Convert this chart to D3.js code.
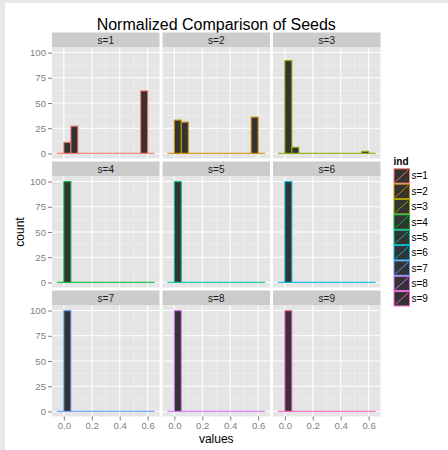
<!DOCTYPE html>
<html><head><meta charset="utf-8">
<script src="https://cdn.jsdelivr.net/npm/d3@7"></script>
<style>
html,body{margin:0;padding:0;background:#E8E8E8;}
svg{display:block;}
text{font-family:"Liberation Sans", Arial, Helvetica, sans-serif;}
</style></head>
<body>
<svg id="chart" width="448" height="450"></svg>
<script>
// ---- data ----
const categories = ["s=1","s=2","s=3","s=4","s=5","s=6","s=7","s=8","s=9"];
const colors = ["#F8766D","#D39200","#93AA00","#00BA38","#00C19F","#00B9E3","#619CFF","#DB72FB","#FF61C3"];
const binEdges = [-0.05,0,0.05,0.10,0.15,0.20,0.25,0.30,0.35,0.40,0.45,0.50,0.55,0.60,0.65];
const counts_s1 = [0,11,27,0,0,0,0,0,0,0,0,0,62,0];
const counts_s2 = [0,33,31,0,0,0,0,0,0,0,0,0,36,0];
const counts_s3 = [0,92,6,0,0,0,0,0,0,0,0,0,2,0];
const counts_s4 = [0,100,0,0,0,0,0,0,0,0,0,0,0,0];
const counts_s5 = [0,100,0,0,0,0,0,0,0,0,0,0,0,0];
const counts_s6 = [0,100,0,0,0,0,0,0,0,0,0,0,0,0];
const counts_s7 = [0,100,0,0,0,0,0,0,0,0,0,0,0,0];
const counts_s8 = [0,100,0,0,0,0,0,0,0,0,0,0,0,0];
const counts_s9 = [0,100,0,0,0,0,0,0,0,0,0,0,0,0];
const seriesCounts = [counts_s1,counts_s2,counts_s3,counts_s4,counts_s5,counts_s6,counts_s7,counts_s8,counts_s9];
const xTicks = [0,0.2,0.4,0.6];
const xMinor = [0.1,0.3,0.5];
const yTicks = [0,25,50,75,100];
const yMinor = [12.5,37.5,62.5,87.5];
const titleText = "Normalized Comparison of Seeds";

// ---- layout ----
const svg = d3.select("#chart");
svg.append("rect").attr("x",5).attr("y",3).attr("width",443).attr("height",447).attr("fill","#ffffff");

const panelW = 107.5, panelH = 111, stripH = 15;
const colX = [52, 162.5, 273];
const rowY = [47.5, 176.5, 305.5]; // panel tops

const xDomain = [binEdges[0] - 0.035, binEdges[binEdges.length-1] + 0.035];
const yDomain = [-5, 105];
const x = d3.scaleLinear().domain(xDomain).range([0, panelW]);
const y = d3.scaleLinear().domain(yDomain).range([panelH, 0]);

// title
svg.append("text").attr("x", (colX[0] + colX[2] + panelW)/2).attr("y", 30)
  .attr("text-anchor","middle").attr("font-size", 16).attr("fill","#000").text(titleText);

categories.forEach((cat, i) => {
  const col = i % 3, row = Math.floor(i / 3);
  const g = svg.append("g").attr("transform", `translate(${colX[col]},${rowY[row]})`);
  // strip
  g.append("rect").attr("x",0).attr("y",-stripH).attr("width",panelW).attr("height",stripH).attr("fill","#CCCCCC");
  g.append("text").attr("x",panelW/2).attr("y",-stripH/2 + 3.5).attr("text-anchor","middle")
    .attr("font-size",10).attr("fill","#1A1A1A").text(cat);
  // panel
  g.append("rect").attr("x",0).attr("y",0).attr("width",panelW).attr("height",panelH).attr("fill","#E5E5E5");
  // minor grid
  g.selectAll(".xm").data(xMinor).enter().append("line")
    .attr("x1",d=>x(d)).attr("x2",d=>x(d)).attr("y1",0).attr("y2",panelH)
    .attr("stroke","#F2F2F2").attr("stroke-width",0.6);
  g.selectAll(".ym").data(yMinor).enter().append("line")
    .attr("y1",d=>y(d)).attr("y2",d=>y(d)).attr("x1",0).attr("x2",panelW)
    .attr("stroke","#F2F2F2").attr("stroke-width",0.6);
  // major grid
  g.selectAll(".xg").data(xTicks).enter().append("line")
    .attr("x1",d=>x(d)).attr("x2",d=>x(d)).attr("y1",0).attr("y2",panelH)
    .attr("stroke","#FFFFFF").attr("stroke-width",1.1);
  g.selectAll(".yg").data(yTicks).enter().append("line")
    .attr("y1",d=>y(d)).attr("y2",d=>y(d)).attr("x1",0).attr("x2",panelW)
    .attr("stroke","#FFFFFF").attr("stroke-width",1.1);
  // histogram bars
  const bins = seriesCounts[i].map((c, k) => ({x0: binEdges[k], x1: binEdges[k+1], c}));
  g.selectAll(".bar").data(bins).enter().append("path")
    .attr("d", d => `M${x(d.x0)},${y(0)}H${x(d.x1)}V${y(d.c)}H${x(d.x0)}Z`)
    .attr("fill","#333333").attr("stroke",colors[i]).attr("stroke-opacity",0.85).attr("stroke-width",1.2);

  // axes
  if (col === 0) {
    const ay = g.append("g").call(d3.axisLeft(y).tickValues(yTicks).tickSize(4).tickPadding(2).tickFormat(d3.format("d")));
    ay.select(".domain").remove();
    ay.selectAll("line").attr("stroke","#7F7F7F");
    ay.selectAll("text").attr("fill","#7F7F7F").attr("font-size",9.6).attr("font-family","Liberation Sans, Arial, sans-serif");
  }
  if (row === 2) {
    const ax = g.append("g").attr("transform",`translate(0,${panelH})`)
      .call(d3.axisBottom(x).tickValues(xTicks).tickSize(4).tickPadding(2).tickFormat(d3.format(".1f")));
    ax.select(".domain").remove();
    ax.selectAll("line").attr("stroke","#7F7F7F");
    ax.selectAll("text").attr("fill","#7F7F7F").attr("font-size",9.6).attr("font-family","Liberation Sans, Arial, sans-serif");
  }
});

// axis titles
svg.append("text").attr("x", (colX[0] + colX[2] + panelW)/2).attr("y", 443)
  .attr("text-anchor","middle").attr("font-size",12).attr("fill","#000").text("values");
svg.append("text").attr("transform", `translate(24,${(rowY[0] + rowY[2] + panelH)/2}) rotate(-90)`)
  .attr("text-anchor","middle").attr("font-size",12).attr("fill","#000").text("count");

// legend
const lg = svg.append("g").attr("transform","translate(393.5,0)");
lg.append("text").attr("x",0).attr("y",164.5).attr("font-size",10).attr("font-weight","bold").attr("fill","#000").text("ind");
const keyW = 16.5, keyH = 15.35, keyTop = 168.3;
categories.forEach((cat, i) => {
  const ky = keyTop + i*keyH;
  lg.append("rect").attr("x",0.5).attr("y",ky+0.5).attr("width",keyW-1).attr("height",keyH-1)
    .attr("fill","#333333").attr("stroke",colors[i]).attr("stroke-width",1);
  lg.append("line").attr("x1",2).attr("y1",ky+keyH-2).attr("x2",keyW-2).attr("y2",ky+2)
    .attr("stroke",colors[i]).attr("stroke-width",0.9);
  lg.append("text").attr("x",keyW+1.5).attr("y",ky+keyH/2+3.5).attr("font-size",10).attr("fill","#000").text(cat);
});
</script>
</body></html>
